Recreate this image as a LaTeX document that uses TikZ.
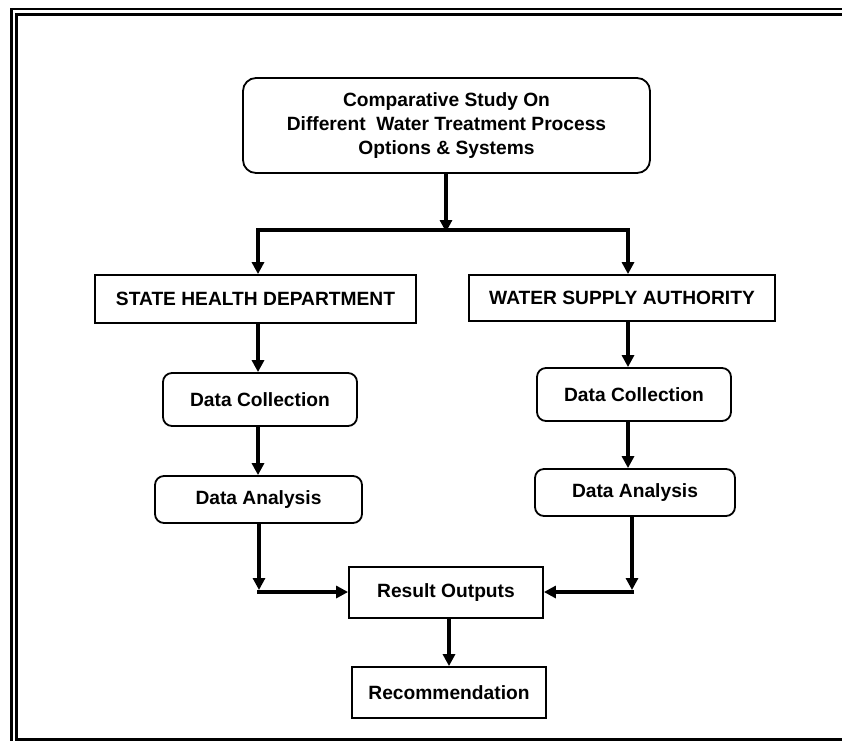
\documentclass[tikz,border=0pt]{standalone}
\usepackage{fontspec}
\setmainfont{Liberation Sans}
\usetikzlibrary{arrows.meta}
\begin{document}
\begin{tikzpicture}[x=1pt,y=-1pt,
  box/.style={draw,line width=1.8pt,inner sep=0pt,align=center,
    font=\fontsize{19.2}{24}\selectfont\bfseries},
  rbox/.style={box,rounded corners=9pt},
  arr/.style={line width=4pt,-{Triangle[length=12pt,width=12pt]}},
  bar/.style={line width=4pt},
  frameline/.style={line width=2.4pt}
]
\useasboundingbox (0,0) rectangle (842,740);
\begin{scope}
\clip (0,0) rectangle (842,740);
\draw[frameline] (11.3,9.2) rectangle (870,770);
\draw[frameline] (16.3,14.6) rectangle (860,739.4);
\end{scope}

\node[rbox,rounded corners=13pt,minimum width=407pt,minimum height=95pt] (top) at (446.5,125.5)
  {Comparative Study On\\Different~~Water Treatment Process\\Options \& Systems};
\node[box,minimum width=321pt,minimum height=48pt] (shd) at (255.5,299) {STATE HEALTH DEPARTMENT};
\node[box,minimum width=306pt,minimum height=46pt] (wsa) at (622,298) {WATER SUPPLY AUTHORITY};
\node[rbox,minimum width=194pt,minimum height=53pt] (dc1) at (260,399.5) {Data Collection};
\node[rbox,minimum width=194pt,minimum height=53pt] (dc2) at (634,394.5) {Data Collection};
\node[rbox,minimum width=207pt,minimum height=47pt] (da1) at (258.5,499.5) {Data Analysis};
\node[rbox,minimum width=200pt,minimum height=47pt] (da2) at (635,492.5) {Data Analysis};
\node[box,minimum width=194pt,minimum height=51pt] (res) at (446,592.5) {Result Outputs};
\node[box,minimum width=194pt,minimum height=51pt] (rec) at (449,692.5) {Recommendation};

\coordinate (bl) at (258,230);
\coordinate (br) at (628,230);
\coordinate (bm) at (446,230);
\coordinate (colL) at (258,0);
\coordinate (colR) at (628,0);
\coordinate (ll) at (259,592);
\coordinate (lr) at (632,592);

\draw[arr] (top.south -| bm) -- ([yshift=-2pt]bm);
\draw[bar] ([xshift=-2pt]bl) -- ([xshift=2pt]br);
\draw[arr] (bl) -- (bl |- shd.north);
\draw[arr] (br) -- (br |- wsa.north);
\draw[arr] (colL |- shd.south) -- (colL |- dc1.north);
\draw[arr] (colR |- wsa.south) -- (colR |- dc2.north);
\draw[arr] (colL |- dc1.south) -- (colL |- da1.north);
\draw[arr] (colR |- dc2.south) -- (colR |- da2.north);
\draw[arr] (ll |- da1.south) -- ([yshift=2pt]ll);
\draw[arr] ([xshift=-2pt]ll) -- (ll -| res.west);
\draw[arr] (lr |- da2.south) -- ([yshift=2pt]lr);
\draw[arr] ([xshift=2pt]lr) -- (lr -| res.east);
\draw[arr] (res.south -| rec.north) -- (rec.north);
\end{tikzpicture}
\end{document}
